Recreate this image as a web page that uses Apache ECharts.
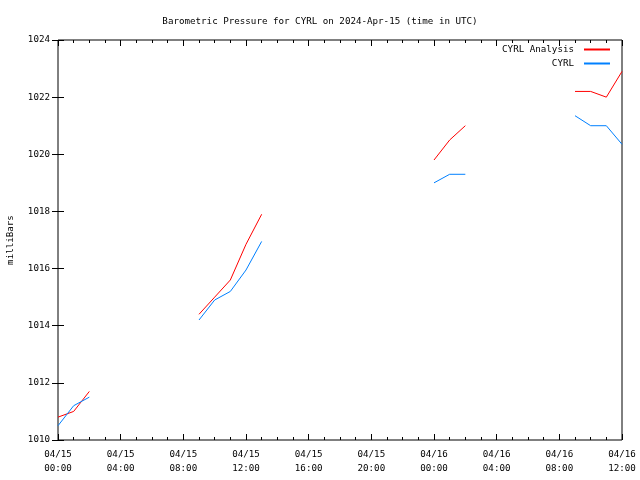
<!DOCTYPE html>
<html>
<head>
<meta charset="utf-8">
<script src="https://cdn.jsdelivr.net/npm/echarts@6/dist/echarts.min.js"></script>
<style>
html,body{margin:0;padding:0;background:#fff;}
#c{width:640px;height:480px;}
</style>
</head>
<body>
<div id="c"></div>
<script>
var titleText = "Barometric Pressure for CYRL on 2024-Apr-15 (time in UTC)";
var yAxisName = "milliBars";
// hours since 2024-04-15 00:00 UTC
var hours = [0, 1, 2, 9, 10, 11, 12, 13, 24, 25, 26, 33, 34, 35, 36];
var analysisValues = [1010.8, 1011.0, 1011.7, 1014.4, 1015.0, 1015.6, 1016.85, 1017.9, 1019.8, 1020.5, 1021.0, 1022.2, 1022.2, 1022.0, 1022.9];
var cyrlValues = [1010.5, 1011.2, 1011.5, 1014.2, 1014.9, 1015.2, 1015.95, 1016.95, 1019.0, 1019.3, 1019.3, 1021.35, 1021.0, 1021.0, 1020.35];
var xTickLabels = ["04/15\n00:00", "04/15\n04:00", "04/15\n08:00", "04/15\n12:00", "04/15\n16:00", "04/15\n20:00", "04/16\n00:00", "04/16\n04:00", "04/16\n08:00", "04/16\n12:00"];
var yTickLabels = ["1010", "1012", "1014", "1016", "1018", "1020", "1022", "1024"];
var seriesNames = ["CYRL Analysis", "CYRL"];
var seriesColors = ["#ff0000", "#0080ff"];

function buildData(vals) {
  var out = [];
  for (var i = 0; i < hours.length; i++) {
    if (i > 0 && hours[i] - hours[i - 1] > 1) out.push([hours[i - 1] + 0.5, null]);
    out.push([hours[i], vals[i]]);
  }
  return out;
}

var FONT = "DejaVu Sans Mono";
var FS = 9.2;
var chart = echarts.init(document.getElementById('c'), null, {renderer: 'canvas'});

var xCommon = {
  type: 'value', min: 0, max: 36, interval: 4,
  axisLine: {show: false},
  splitLine: {show: false},
  axisTick: {show: true, inside: true, length: 6, lineStyle: {color: '#000', width: 1}},
  minorTick: {show: true, splitNumber: 4, length: 3, lineStyle: {color: '#000', width: 1}}
};
var yCommon = {
  type: 'value', min: 1010, max: 1024, interval: 2,
  axisLine: {show: false},
  splitLine: {show: false},
  axisTick: {show: true, inside: true, length: 6, lineStyle: {color: '#000', width: 1}}
};

chart.setOption({
  animation: false,
  backgroundColor: '#fff',
  title: {
    text: titleText, left: 'center', top: 12,
    textStyle: {fontFamily: FONT, fontSize: FS, fontWeight: 'normal', color: '#000'}
  },
  legend: {
    orient: 'vertical', right: 25, top: 40, align: 'right',
    icon: 'rect', itemWidth: 26, itemHeight: 2, itemGap: 5,
    textStyle: {fontFamily: FONT, fontSize: FS, color: '#000', padding: [0, 5, 0, 0]},
    data: [
      {name: seriesNames[0], itemStyle: {color: seriesColors[0]}},
      {name: seriesNames[1], itemStyle: {color: seriesColors[1]}}
    ]
  },
  grid: {
    left: 58, right: 18, top: 40, bottom: 40,
    outerBoundsMode: 'none', containLabel: false,
    show: true, borderColor: '#000', borderWidth: 1, backgroundColor: 'transparent'
  },
  xAxis: [
    Object.assign({}, xCommon, {
      position: 'bottom',
      axisLabel: {
        margin: 8, fontFamily: FONT, fontSize: FS, color: '#000', lineHeight: 14,
        formatter: function (v) { return xTickLabels[Math.round(v / 4)]; }
      }
    }),
    Object.assign({}, xCommon, {position: 'top', axisLabel: {show: false}})
  ],
  yAxis: [
    Object.assign({}, yCommon, {
      position: 'left',
      name: yAxisName, nameLocation: 'middle', nameGap: 43, nameRotate: 90,
      nameTextStyle: {fontFamily: FONT, fontSize: FS, color: '#000'},
      axisLabel: {
        margin: 8, fontFamily: FONT, fontSize: FS, color: '#000',
        formatter: function (v) { return yTickLabels[Math.round((v - 1010) / 2)]; }
      }
    }),
    Object.assign({}, yCommon, {position: 'right', axisLabel: {show: false}})
  ],
  series: [
    {
      name: seriesNames[0], type: 'line', data: buildData(analysisValues),
      xAxisIndex: 0, yAxisIndex: 0,
      symbol: 'none', connectNulls: false,
      lineStyle: {color: seriesColors[0], width: 1}, itemStyle: {color: seriesColors[0]}
    },
    {
      name: seriesNames[1], type: 'line', data: buildData(cyrlValues),
      xAxisIndex: 0, yAxisIndex: 0,
      symbol: 'none', connectNulls: false,
      lineStyle: {color: seriesColors[1], width: 1}, itemStyle: {color: seriesColors[1]}
    }
  ]
});
</script>
</body>
</html>
